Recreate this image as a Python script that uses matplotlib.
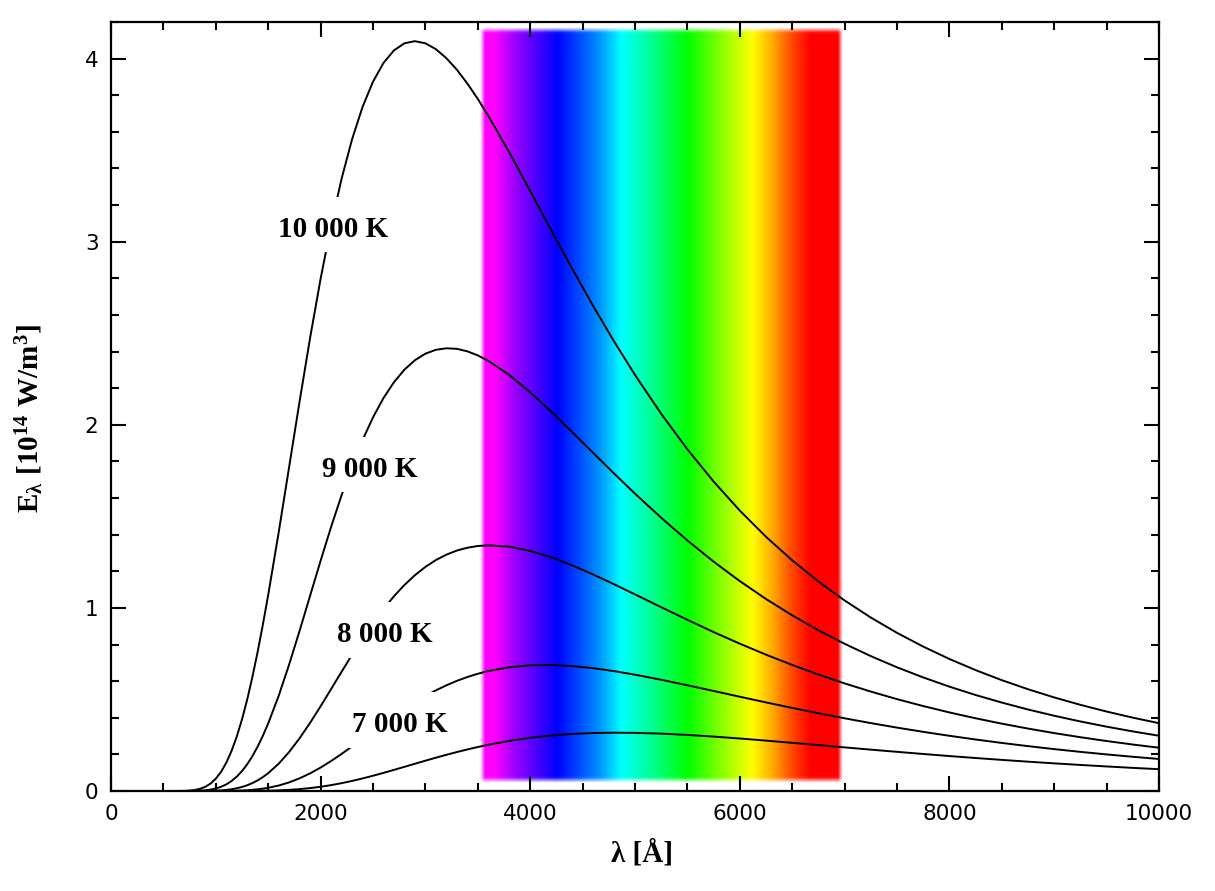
import numpy as np
import matplotlib
matplotlib.use("Agg")
import matplotlib.pyplot as plt
from matplotlib.colors import LinearSegmentedColormap
from matplotlib.path import Path
from matplotlib.ticker import MultipleLocator, FixedLocator

# ---------------- data ----------------
wavelength = [500, 600, 700, 750, 800, 850, 900, 950, 1000, 1050, 1100, 1150,
              1200, 1250, 1300, 1350, 1400, 1450, 1500,
              1600, 1700, 1800, 1900, 2000, 2100, 2200, 2300, 2400, 2500,
              2600, 2700, 2800, 2900, 3000, 3100, 3200, 3300, 3400, 3500, 3600,
              3800, 4000, 4200, 4400, 4600, 4800, 5000,
              5250, 5500, 5750, 6000, 6250, 6500, 6750, 7000, 7250, 7500,
              7750, 8000, 8250, 8500, 8750, 9000, 9250, 9500, 9750, 10000]

E_10000 = [0.0, 0.0001, 0.0008, 0.0023, 0.0056, 0.0120, 0.0230, 0.0407, 0.0672, 0.1044,
           0.1543, 0.2182, 0.2971, 0.3912, 0.5005, 0.6246, 0.7621, 0.9112, 1.0708,
           1.4124, 1.7707, 2.1294, 2.4755, 2.7976, 3.0888, 3.3433, 3.5592, 3.7356, 3.8740,
           3.9764, 4.0450, 4.0837, 4.0953, 4.0837, 4.0516, 4.0025, 3.9397, 3.8643, 3.7798,
           3.6875,
           3.4883, 3.2774, 3.0638, 2.8532, 2.6497, 2.4555, 2.2724,
           2.0599, 1.8662, 1.6902, 1.5314, 1.3884, 1.2599, 1.1443, 1.0406, 0.9474, 0.8638,
           0.7887, 0.7211, 0.6602, 0.6054, 0.5558, 0.5111, 0.4706, 0.4339, 0.4006, 0.3704]
E_9000 = [0.0, 0.0, 0.0001, 0.0003, 0.0008, 0.0018, 0.0039, 0.0076, 0.0136, 0.0228,
          0.0361, 0.0544, 0.0784, 0.1089, 0.1463, 0.1911, 0.2432, 0.3026, 0.3688,
          0.5199, 0.6912, 0.8759, 1.0668, 1.2574, 1.4418, 1.6152, 1.7744, 1.9167, 2.0406,
          2.1461, 2.2327, 2.3012, 2.3527, 2.3885, 2.4097, 2.4179, 2.4150, 2.4013, 2.3791,
          2.3494,
          2.2721, 2.1774, 2.0719, 1.9605, 1.8471, 1.7341, 1.6241,
          1.4922, 1.3682, 1.2528, 1.1464, 1.0487, 0.9595, 0.8780, 0.8040, 0.7367, 0.6756,
          0.6203, 0.5700, 0.5243, 0.4829, 0.4452, 0.4110, 0.3798, 0.3514, 0.3254, 0.3018]
E_8000 = [0.0, 0.0, 0.0, 0.0, 0.0001, 0.0002, 0.0004, 0.0009, 0.0018, 0.0034,
          0.0059, 0.0096, 0.0148, 0.0220, 0.0315, 0.0435, 0.0584, 0.0763, 0.0973,
          0.1491, 0.2133, 0.2886, 0.3726, 0.4628, 0.5564, 0.6510, 0.7439, 0.8329, 0.9167,
          0.9939, 1.0637, 1.1252, 1.1787, 1.2240, 1.2613, 1.2908, 1.3132, 1.3286, 1.3381,
          1.3418,
          1.3346, 1.3115, 1.2765, 1.2326, 1.1828, 1.1293, 1.0739,
          1.0039, 0.9350, 0.8681, 0.8046, 0.7446, 0.6885, 0.6361, 0.5877, 0.5430, 0.5018,
          0.4639, 0.4291, 0.3972, 0.3678, 0.3410, 0.3163, 0.2937, 0.2729, 0.2538, 0.2363]
E_7000 = [0.0, 0.0, 0.0, 0.0, 0.0, 0.0, 0.0, 0.0001, 0.0001, 0.0003,
          0.0006, 0.0010, 0.0017, 0.0028, 0.0044, 0.0065, 0.0093, 0.0130, 0.0176,
          0.0299, 0.0471, 0.0693, 0.0964, 0.1281, 0.1637, 0.2024, 0.2433, 0.2854, 0.3278,
          0.3698, 0.4104, 0.4491, 0.4855, 0.5191, 0.5497, 0.5771, 0.6015, 0.6225, 0.6403,
          0.6550,
          0.6758, 0.6863, 0.6879, 0.6823, 0.6708, 0.6547, 0.6352,
          0.6075, 0.5775, 0.5463, 0.5149, 0.4839, 0.4538, 0.4247, 0.3971, 0.3709, 0.3462,
          0.3231, 0.3015, 0.2813, 0.2625, 0.2451, 0.2288, 0.2138, 0.1998, 0.1869, 0.1749]
E_6000 = [0.0, 0.0, 0.0, 0.0, 0.0, 0.0, 0.0, 0.0, 0.0, 0.0,
          0.0, 0.0, 0.0001, 0.0002, 0.0003, 0.0005, 0.0008, 0.0012, 0.0018,
          0.0035, 0.0063, 0.0103, 0.0159, 0.0231, 0.0320, 0.0427, 0.0549, 0.0685, 0.0833,
          0.0990, 0.1153, 0.1320, 0.1488, 0.1656, 0.1819, 0.1976, 0.2127, 0.2269, 0.2402,
          0.2524,
          0.2736, 0.2904, 0.3030, 0.3116, 0.3166, 0.3184, 0.3175,
          0.3133, 0.3063, 0.2972, 0.2867, 0.2752, 0.2631, 0.2507, 0.2382, 0.2259, 0.2139,
          0.2022, 0.1909, 0.1802, 0.1699, 0.1602, 0.1510, 0.1423, 0.1341, 0.1263, 0.1191]

curve_labels = ["10 000 K", "9 000 K", "8 000 K", "7 000 K"]

x_ticks = [0, 2000, 4000, 6000, 8000, 10000]
y_ticks = [0, 1, 2, 3, 4]

# ---------------- layout / style constants ----------------
label_pos = [(2118, 3.027), (2471, 1.716), (2615, 0.814), (2758, 0.322)]
band_lo, band_hi = 3520, 6975
band_bottom, band_top = 0.04, 4.175
spectrum_stops = [(3520, "#ff00ff"), (3650, "#ff00ff"), (3850, "#9900ff"),
                  (4250, "#0000ff"), (4480, "#0050ff"), (4670, "#0099ff"),
                  (4860, "#00ffff"), (5140, "#00ff99"), (5500, "#00ff00"),
                  (5860, "#99ff00"), (6120, "#ffff00"), (6320, "#ffa500"),
                  (6480, "#ff5000"), (6670, "#ff0000"), (6975, "#ff0000")]

serif = ["Liberation Serif", "DejaVu Serif"]
plt.rcParams["mathtext.fontset"] = "custom"
plt.rcParams["mathtext.rm"] = "Liberation Serif:bold"
plt.rcParams["mathtext.it"] = "Liberation Serif:bold"
plt.rcParams["mathtext.bf"] = "Liberation Serif:bold"
plt.rcParams["mathtext.default"] = "rm"

fig = plt.figure(figsize=(12.15, 8.91), dpi=100)
ax = fig.add_axes([111 / 1215, 100 / 891, 1048 / 1215, 769 / 891])
ax.set_xlim(0, 10000)
ax.set_ylim(0, 4.2)

# spectrum band
ncol, nrow = 700, 300
xs = np.linspace(band_lo, band_hi, ncol)
ys = np.linspace(band_bottom, band_top, nrow)
pos = [(p - band_lo) / (band_hi - band_lo) for p, _ in spectrum_stops]
cmap = LinearSegmentedColormap.from_list("spec", list(zip(pos, [c for _, c in spectrum_stops])))
rgb = cmap((xs - band_lo) / (band_hi - band_lo))[:, :3]
fade_x, fade_y = 45.0, 0.03
ax_alpha = np.clip(np.minimum(xs - band_lo, band_hi - xs) / fade_x, 0, 1)
ay_alpha = np.clip(np.minimum(ys - band_bottom, band_top - ys) / fade_y, 0, 1)
img = np.zeros((nrow, ncol, 4))
img[:, :, :3] = rgb[None, :, :]
img[:, :, 3] = ay_alpha[:, None] * ax_alpha[None, :]
ax.imshow(img, extent=[band_lo, band_hi, band_bottom, band_top], origin="lower",
          aspect="auto", interpolation="bilinear", zorder=1)

lam = np.array(wavelength)
series = [E_10000, E_9000, E_8000, E_7000, E_6000]
lines = []
for s in series:
    ln, = ax.plot(lam, s, color="black", lw=1.4, zorder=3, solid_joinstyle="round")
    lines.append(ln)

texts = []
for (lx, ly), lab in zip(label_pos, curve_labels):
    t = ax.text(lx, ly, lab, ha="center", va="baseline", fontsize=21,
                fontweight="bold", family=serif, zorder=4)
    texts.append(t)

# ticks
ax.xaxis.set_major_locator(FixedLocator(x_ticks))
ax.xaxis.set_minor_locator(MultipleLocator(500))
ax.yaxis.set_major_locator(FixedLocator(y_ticks))
ax.yaxis.set_minor_locator(MultipleLocator(0.2))
ax.tick_params(which="both", direction="in", top=True, right=True, color="black", width=1.5)
ax.tick_params(which="major", length=11)
ax.tick_params(which="minor", length=6)
ax.tick_params(axis="x", which="major", pad=9, labelsize=15.5)
ax.tick_params(axis="y", which="major", pad=9, labelsize=15.5)
for sp in ax.spines.values():
    sp.set_linewidth(1.6)
    sp.set_zorder(5)

ax.set_xlabel("λ [Å]", fontsize=21, fontweight="bold", family=serif)
ax.xaxis.set_label_coords(0.5067, -0.063)
ax.set_ylabel(r"$\mathbf{E_{λ}\ [10^{14}\ W/m^{3}]}$", fontsize=21)
ax.yaxis.set_label_coords(-0.062, 0.485)

# break the labelled curves where their label sits
fig.canvas.draw()
renderer = fig.canvas.get_renderer()
inv = ax.transData.inverted()
for (lx, ly), t, ln in zip(label_pos, texts, lines[:4]):
    bb = t.get_window_extent(renderer)
    (x0, _), (x1, _) = inv.transform([[bb.x0 - 8, bb.y0], [bb.x1 + 8, bb.y1]])
    y0, y1 = ly - 0.085, ly + 0.219
    verts = [(-5e3, -5), (2e4, -5), (2e4, 10), (-5e3, 10), (-5e3, -5),
             (x0, y0), (x0, y1), (x1, y1), (x1, y0), (x0, y0)]
    codes = [Path.MOVETO, Path.LINETO, Path.LINETO, Path.LINETO, Path.CLOSEPOLY,
             Path.MOVETO, Path.LINETO, Path.LINETO, Path.LINETO, Path.CLOSEPOLY]
    ln.set_clip_path(Path(verts, codes), ax.transData)

fig.savefig("out.png", dpi=100)
